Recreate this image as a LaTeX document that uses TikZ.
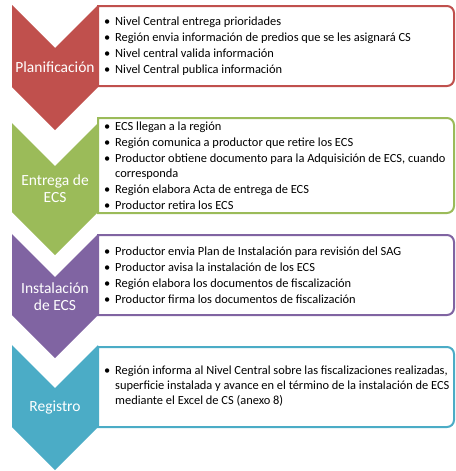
\documentclass[tikz,border=0pt]{standalone}
\usepackage{fontspec}
\setmainfont{Carlito}
\usepackage{tikz}
\usepackage{xcolor}
\definecolor{planred}{HTML}{C0504D}
\definecolor{entgreen}{HTML}{9BBB59}
\definecolor{instpurple}{HTML}{8064A2}
\definecolor{regblue}{HTML}{4BACC6}
\newcommand{\bul}{\makebox[11pt][l]{\textbullet}}
\newcommand{\cont}{\hspace*{11pt}}

\begin{document}
\begin{tikzpicture}[x=1pt,y=-1pt]%
  \tikzstyle{chevtxt}=[text=white,font=\fontsize{15.5}{17}\selectfont,align=center,inner sep=0]
  \tikzstyle{lbox}=[line width=2pt,fill=white]
  \tikzstyle{ltxt}=[anchor=west,inner sep=0,align=left,font=\fontsize{12.4}{15}\selectfont]
  \useasboundingbox (0,0) rectangle (455,471);
  % Planificacion
  \fill[planred] (12,5) -- (55,48) -- (98,5) -- (98,87) -- (55,130) -- (12,87) -- cycle;
  \draw[lbox,draw=planred] (98,6) [rounded corners=7pt] -- (454,6) -- (454,86) [sharp corners] -- (98,86) -- cycle;
  \node(plan)[chevtxt] at (55,67.5) {Planificación};
  \node(planlist)[ltxt] at (104,46) {\bul Nivel Central entrega prioridades\\[1pt]
    \bul Región envia información de predios que se les asignará CS\\[1pt]
    \bul Nivel central valida información\\[1pt]
    \bul Nivel Central publica información};
  % Entrega de ECS
  \fill[entgreen] (12,123) -- (55,166) -- (98,123) -- (98,212) -- (55,255) -- (12,212) -- cycle;
  \draw[lbox,draw=entgreen] (98,118) [rounded corners=7pt] -- (454,118) -- (454,213) [sharp corners] -- (98,213) -- cycle;
  \node(entrega)[chevtxt] at (55,189) {Entrega de\\ECS};
  \node(entregalist)[ltxt] at (104,165.5) {\bul ECS llegan a la región\\[1pt]
    \bul Región comunica a productor que retire los ECS\\[1pt]
    \bul Productor obtiene documento para la Adquisición de ECS, cuando\\
    \cont corresponda\\[1pt]
    \bul Región elabora Acta de entrega de ECS\\[1pt]
    \bul Productor retira los ECS};
  % Instalacion de ECS
  \fill[instpurple] (12,234) -- (55,277) -- (98,234) -- (98,315) -- (55,358) -- (12,315) -- cycle;
  \draw[lbox,draw=instpurple] (98,235) [rounded corners=7pt] -- (454,235) -- (454,315) [sharp corners] -- (98,315) -- cycle;
  \node(inst)[chevtxt] at (55,296.5) {Instalación\\de ECS};
  \node(instlist)[ltxt] at (104,275) {\bul Productor envia Plan de Instalación para revisión del SAG\\[1pt]
    \bul Productor avisa la instalación de los ECS\\[1pt]
    \bul Región elabora los documentos de fiscalización\\[1pt]
    \bul Productor firma los documentos de fiscalización};
  % Registro
  \fill[regblue] (12,345) -- (55,388) -- (98,345) -- (98,427) -- (55,470) -- (12,427) -- cycle;
  \draw[lbox,draw=regblue] (98,347) [rounded corners=7pt] -- (454,347) -- (454,427) [sharp corners] -- (98,427) -- cycle;
  \node(reg)[chevtxt] at (55,407.5) {Registro};
  \node(reglist)[ltxt] at (104,386) {\bul Región informa al Nivel Central sobre las fiscalizaciones realizadas,\\
    \cont superficie instalada y avance en el término de la instalación de ECS\\
    \cont mediante el Excel de CS (anexo 8)};
\end{tikzpicture}
\end{document}
